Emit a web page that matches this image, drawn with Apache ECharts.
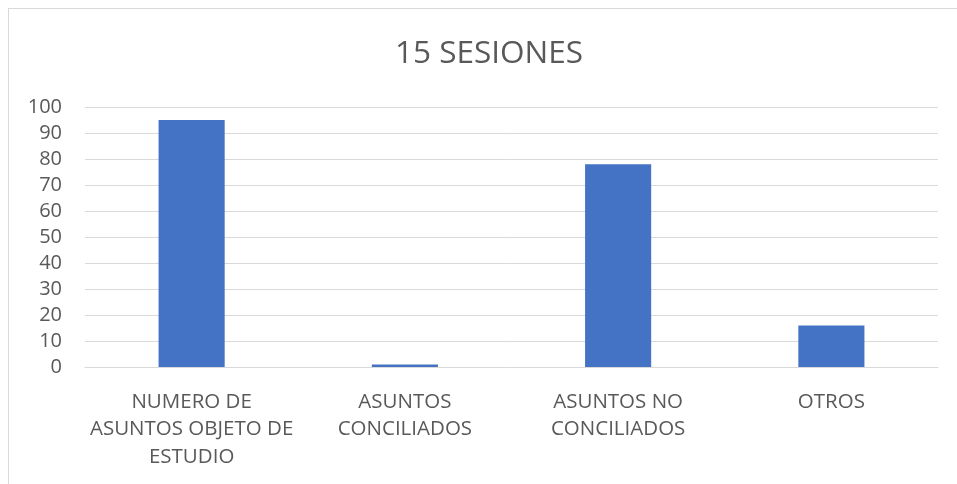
<!DOCTYPE html>
<html>
<head>
<meta charset="utf-8">
<script src="https://cdn.jsdelivr.net/npm/echarts@6/dist/echarts.min.js"></script>
<style>
  html, body { margin: 0; padding: 0; background: #fff; overflow: hidden; }
  #frame { position: absolute; left: 8px; top: 8px; width: 2000px; height: 2000px;
           border-top: 1px solid #d9d9d9; border-left: 1px solid #d9d9d9; }
  #main { position: absolute; left: 0; top: 0; width: 957px; height: 484px; }
</style>
</head>
<body>
<div id="frame"></div>
<div id="main"></div>
<script>
// datos del grafico
var categorias = ['NUMERO DE\nASUNTOS OBJETO DE\nESTUDIO', 'ASUNTOS\nCONCILIADOS', 'ASUNTOS NO\nCONCILIADOS', 'OTROS']
var valores = [95, 1, 78, 16]
var titulo = '15 SESIONES'

var chart = echarts.init(document.getElementById('main'))
chart.setOption({
  animation: false,
  textStyle: { fontFamily: 'Open Sans' },
  title: {
    text: titulo,
    left: 390,
    top: 33,
    textStyle: { color: '#595959', fontSize: 31.5, fontWeight: 'normal', fontFamily: 'Open Sans' }
  },
  grid: { left: 85, right: 19, top: 107, bottom: 117 },
  xAxis: {
    type: 'category',
    data: categorias,
    axisLine: { lineStyle: { color: '#d9d9d9', width: 1 } },
    axisTick: { show: false },
    axisLabel: {
      interval: 0,
      color: '#595959',
      fontSize: 20.5,
      lineHeight: 27.5,
      margin: 21
    }
  },
  yAxis: {
    type: 'value',
    min: 0,
    max: 100,
    interval: 10,
    axisLine: { show: false },
    axisTick: { show: false },
    splitLine: { lineStyle: { color: '#d9d9d9', width: 1 } },
    axisLabel: { color: '#595959', fontSize: 20, margin: 23 }
  },
  series: [{
    type: 'bar',
    data: valores,
    barWidth: '31%',
    itemStyle: { color: '#4472C4' }
  }]
})
</script>
</body>
</html>
